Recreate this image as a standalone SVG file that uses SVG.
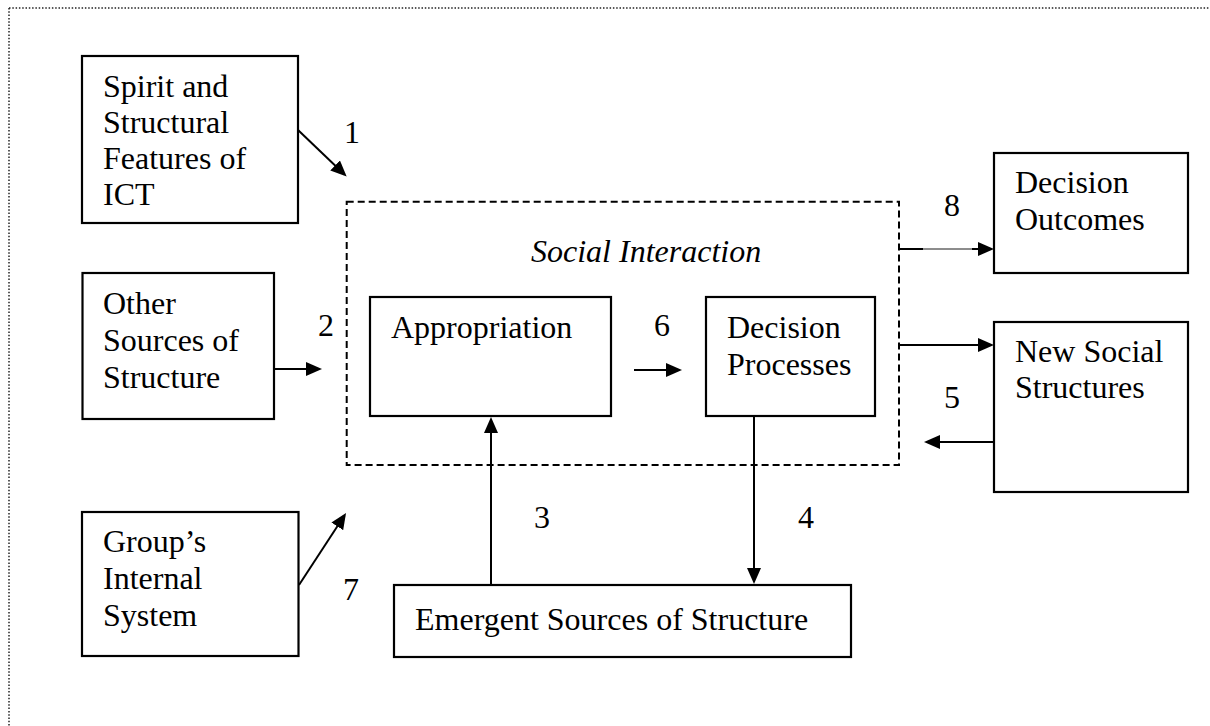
<svg xmlns="http://www.w3.org/2000/svg" width="1210" height="726" viewBox="0 0 1210 726">
  <style>
    .box { fill: #fff; stroke: #000; stroke-width: 2.2; }
    .lbl { font-family: "Liberation Serif", "Times New Roman", serif; font-size: 32px; fill: #000; }
    .it { font-style: italic; }
    .conn { stroke: #000; stroke-width: 2; fill: none; }
    .thin { stroke: #000; stroke-width: 0.9; fill: none; }
    .frame { stroke: #222; stroke-width: 1.5; stroke-dasharray: 1.5 1.8; fill: none; }
    .region { stroke: #000; stroke-width: 2; stroke-dasharray: 7 4; fill: none; }
  </style>
  <defs>
    <marker id="arrow" viewBox="0 0 16 14" refX="13" refY="7" markerWidth="16" markerHeight="14" markerUnits="userSpaceOnUse" orient="auto">
      <path d="M0,0 L16,7 L0,14 z" fill="#000"/>
    </marker>
  </defs>

  <rect width="1210" height="726" fill="#fff"/>

  <!-- dotted page frame (top and left edges) -->
  <path class="frame" d="M9,8 H1209 M9,8 V726"/>

  <!-- social interaction region -->
  <g id="social-interaction">
    <rect class="region" x="346.7" y="201.7" width="552.3" height="263.3"/>
    <text class="lbl it" x="531" y="262">Social Interaction</text>
  </g>

  <g id="spirit">
    <rect class="box" x="82" y="56" width="216" height="167"/>
    <text class="lbl" x="103" y="97">Spirit and</text>
    <text class="lbl" x="103" y="133">Structural</text>
    <text class="lbl" x="103" y="169">Features of</text>
    <text class="lbl" x="103" y="205">ICT</text>
  </g>

  <g id="other-sources">
    <rect class="box" x="82.5" y="273" width="191.5" height="146"/>
    <text class="lbl" x="103" y="314">Other</text>
    <text class="lbl" x="103" y="351">Sources of</text>
    <text class="lbl" x="103" y="388">Structure</text>
  </g>

  <g id="internal-system">
    <rect class="box" x="82" y="512" width="216.5" height="144"/>
    <text class="lbl" x="103" y="552">Group’s</text>
    <text class="lbl" x="103" y="589">Internal</text>
    <text class="lbl" x="103" y="626">System</text>
  </g>

  <g id="appropriation">
    <rect class="box" x="370" y="297" width="241" height="119"/>
    <text class="lbl" x="391" y="338">Appropriation</text>
  </g>

  <g id="decision-processes">
    <rect class="box" x="706" y="297" width="169" height="119"/>
    <text class="lbl" x="727" y="338">Decision</text>
    <text class="lbl" x="727" y="375">Processes</text>
  </g>

  <g id="emergent-sources">
    <rect class="box" x="394" y="585" width="457" height="72"/>
    <text class="lbl" x="415" y="630">Emergent Sources of Structure</text>
  </g>

  <g id="decision-outcomes">
    <rect class="box" x="994" y="153" width="194" height="120"/>
    <text class="lbl" x="1015" y="193">Decision</text>
    <text class="lbl" x="1015" y="230">Outcomes</text>
  </g>

  <g id="new-social-structures">
    <rect class="box" x="994" y="322" width="194" height="170"/>
    <text class="lbl" x="1015" y="362">New Social</text>
    <text class="lbl" x="1015" y="398">Structures</text>
  </g>

  <!-- connectors -->
  <g id="connectors">
    <line class="conn" x1="298" y1="130" x2="344.5" y2="174.5" marker-end="url(#arrow)"/>
    <line class="conn" x1="274" y1="369" x2="319" y2="369" marker-end="url(#arrow)"/>
    <line class="conn" x1="634" y1="370" x2="679" y2="370" marker-end="url(#arrow)"/>
    <line class="conn" x1="491" y1="585" x2="491" y2="420" marker-end="url(#arrow)"/>
    <line class="conn" x1="754" y1="416" x2="754" y2="581" marker-end="url(#arrow)"/>
    <line class="conn" x1="299" y1="585" x2="344.4" y2="515.5" marker-end="url(#arrow)"/>
    <line class="conn" x1="899" y1="345" x2="991" y2="345" marker-end="url(#arrow)"/>
    <line class="conn" x1="994" y1="442" x2="927" y2="442" marker-end="url(#arrow)"/>
    <!-- outcome link: short heavy stubs joined by a hairline -->
    <line class="conn" x1="899" y1="249" x2="923" y2="249"/>
    <line class="thin" x1="923" y1="249" x2="972" y2="249"/>
    <line class="conn" x1="972" y1="249" x2="991" y2="249" marker-end="url(#arrow)"/>
  </g>

  <!-- link numbers -->
  <g id="link-labels">
    <text class="lbl" x="344" y="143">1</text>
    <text class="lbl" x="318" y="336">2</text>
    <text class="lbl" x="534" y="528">3</text>
    <text class="lbl" x="798" y="528">4</text>
    <text class="lbl" x="944" y="408">5</text>
    <text class="lbl" x="654" y="336">6</text>
    <text class="lbl" x="343" y="600">7</text>
    <text class="lbl" x="944" y="216">8</text>
  </g>
</svg>
